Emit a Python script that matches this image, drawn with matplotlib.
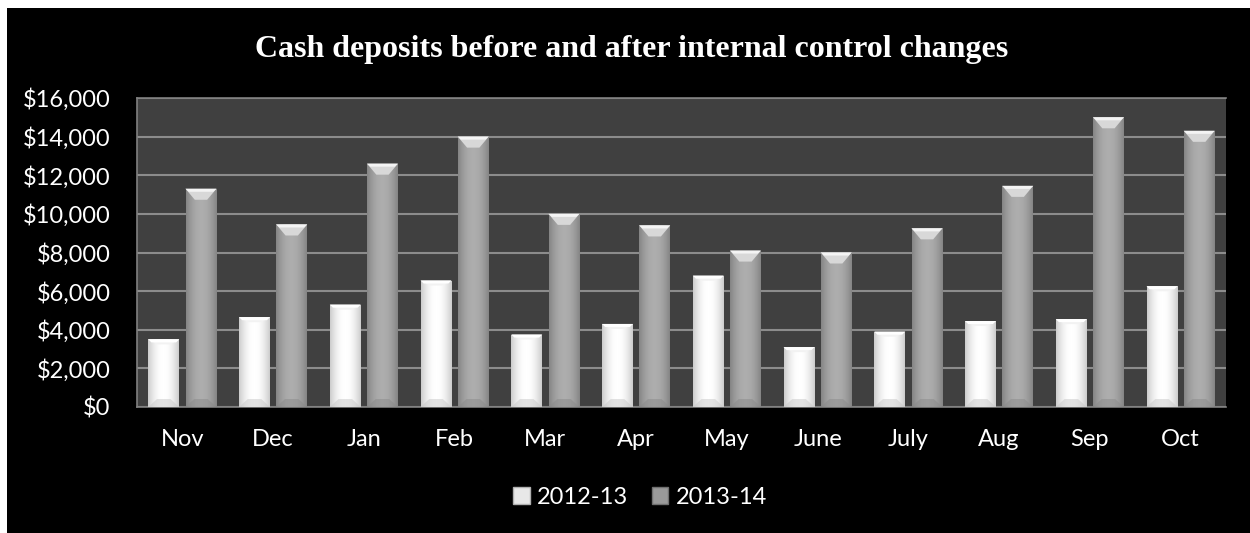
import numpy as np
import matplotlib
matplotlib.use("Agg")
import matplotlib.pyplot as plt
from matplotlib.patches import Rectangle, Polygon, Patch
from matplotlib.ticker import FuncFormatter, MultipleLocator

# data
months = ["Nov", "Dec", "Jan", "Feb", "Mar", "Apr", "May", "June", "July", "Aug", "Sep", "Oct"]
dep_2012_13 = [3500, 4650, 5300, 6550, 3750, 4300, 6800, 3100, 3900, 4450, 4550, 6250]
dep_2013_14 = [11300, 9450, 12600, 14000, 10000, 9400, 8100, 8000, 9250, 11450, 15000, 14300]
series_names = ["2012-13", "2013-14"]

plt.rcParams['font.family'] = ['Lato', 'DejaVu Sans']

fig = plt.figure(figsize=(12.5, 5.33), dpi=100, facecolor="white")
# black chart area with thin white margin on top / left
fig.patches.append(Rectangle((7 / 1250, 0), 1, 1 - 8 / 533, transform=fig.transFigure,
                             facecolor="black", edgecolor="none", zorder=-10))

ax = fig.add_axes([137 / 1250, 1 - 407 / 533, (1226 - 137) / 1250, (407 - 98) / 533])
ax.set_facecolor("#404040")

x = np.arange(len(months))
w = 0.34
off = 0.205
b1 = ax.bar(x - off, dep_2012_13, w, color="#e8e8e8", zorder=2)
b2 = ax.bar(x + off, dep_2013_14, w, color="#a0a0a0", zorder=2)

ypx = 16000 / 309.0  # data units per pixel


def shade(bars, edge, mid, cap, lip, foot, depth):
    t = np.linspace(0, 1, 64)
    prof = 1 - np.abs(2 * t - 1) ** 2
    for b in bars:
        bx, by = b.get_x(), b.get_y()
        bw, bh = b.get_width(), b.get_height()
        col = edge + (mid - edge) * prof
        img = np.tile(col, (2, 1))
        im = ax.imshow(img, cmap="gray", vmin=0, vmax=1, extent=(bx, bx + bw, by, by + bh),
                       aspect="auto", zorder=3, interpolation="bicubic")
        im.set_clip_path(b)
        d = depth * ypx
        top = Polygon([(bx, by + bh), (bx + bw, by + bh), (bx + bw * 0.7, by + bh - d),
                       (bx + bw * 0.3, by + bh - d)], closed=True,
                      facecolor=cap, edgecolor="none", zorder=4)
        ax.add_patch(top)
        band = Polygon([(bx, by + bh), (bx + bw, by + bh), (bx + bw * 0.9, by + bh - 3 * ypx),
                        (bx + bw * 0.1, by + bh - 3 * ypx)], closed=True,
                       facecolor=lip, edgecolor="none", zorder=5)
        ax.add_patch(band)
        bot = Polygon([(bx, by), (bx + bw, by), (bx + bw * 0.72, by + 8 * ypx),
                       (bx + bw * 0.28, by + 8 * ypx)], closed=True,
                      facecolor=foot, edgecolor="none", alpha=0.5, zorder=4)
        ax.add_patch(bot)


shade(b1, 0.80, 1.0, "#f2f2f2", "#ffffff", "#c8c8c8", 5)
shade(b2, 0.52, 0.68, "#d8d8d8", "#f4f4f4", "#8a8a8a", 11)

ax.set_xlim(-0.5, len(months) - 0.5)
ax.set_ylim(0, 16000)
ax.yaxis.set_major_locator(MultipleLocator(2000))
ax.yaxis.set_major_formatter(FuncFormatter(lambda v, p: "${:,.0f}".format(v)))
ax.set_xticks(x)
ax.set_xticklabels(months)
ax.grid(axis="y", color="#8c8c8c", linewidth=1.5, zorder=1)
ax.set_axisbelow(True)
ax.tick_params(axis="both", length=0, colors="white", labelsize=17)
ax.tick_params(axis="y", pad=19)
ax.tick_params(axis="x", pad=16)
for s in ax.spines.values():
    s.set_color("#808080")
    s.set_linewidth(1.2)
ax.spines["right"].set_visible(False)

fig.text(0.505, 0.907, "Cash deposits before and after internal control changes",
         family="Liberation Serif", fontweight="bold", fontsize=23, color="white",
         ha="center", va="center")

handles = [Patch(facecolor="#e8e8e8", edgecolor="#b0b0b0"),
           Patch(facecolor="#9a9a9a", edgecolor="#707070")]
leg = fig.legend(handles, series_names, loc="center", bbox_to_anchor=(0.512, 0.0675), ncol=2,
                 frameon=False, fontsize=17, handlelength=0.7, handleheight=0.7,
                 handletextpad=0.3, columnspacing=1.0)
for t in leg.get_texts():
    t.set_color("white")

fig.savefig("out.png", dpi=100, facecolor=fig.get_facecolor())
